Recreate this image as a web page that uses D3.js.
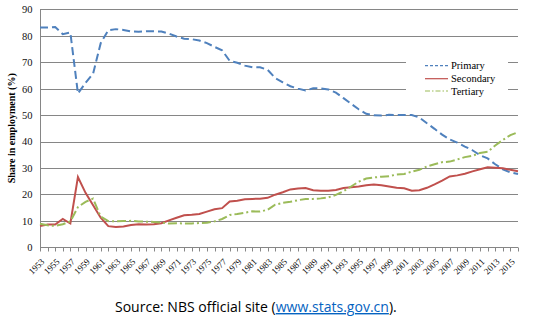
<!DOCTYPE html>
<html><head><meta charset="utf-8">
<script src="https://cdn.jsdelivr.net/npm/d3@7"></script>
<style>html,body{margin:0;padding:0;background:#fff;}svg{display:block;}</style>
</head><body>
<script>
const years = d3.range(1953, 2017);
const primary = [83.1,83.1,83.3,80.6,81.2,58.2,62.2,65.7,77.2,82.1,82.5,82.2,81.6,81.5,81.7,81.7,81.6,80.8,79.7,78.9,78.7,78.2,77.2,75.8,74.5,70.5,69.8,68.7,68.1,68.1,67.1,64.0,62.4,60.9,60.0,59.3,60.1,60.1,59.7,58.5,56.4,54.3,52.2,50.5,49.9,49.8,50.1,50.0,50.0,50.0,49.1,46.9,44.8,42.6,40.8,39.6,38.1,36.7,34.8,33.6,31.4,29.5,28.3,27.7];
const secondary = [8.0,8.6,8.6,10.7,9.0,26.6,20.6,15.9,11.2,8.0,7.7,7.9,8.4,8.7,8.6,8.7,9.1,10.2,11.2,12.1,12.3,12.6,13.5,14.4,14.8,17.3,17.6,18.2,18.3,18.4,18.7,19.9,20.8,21.9,22.2,22.4,21.6,21.4,21.4,21.7,22.4,22.7,23.0,23.5,23.7,23.5,23.0,22.5,22.3,21.4,21.6,22.5,23.8,25.2,26.8,27.2,27.8,28.7,29.5,30.3,30.1,29.9,29.3,28.8];
const tertiary = [8.9,8.3,8.1,8.7,9.8,15.2,17.2,18.4,11.6,9.9,9.8,9.9,10.0,9.8,9.7,9.6,9.3,9.0,9.1,9.0,9.0,9.2,9.3,9.8,10.7,12.2,12.6,13.1,13.6,13.5,14.2,16.1,16.8,17.2,17.8,18.3,18.3,18.5,18.9,19.8,21.2,23.0,24.8,26.0,26.4,26.7,26.9,27.5,27.7,28.6,29.3,30.6,31.4,32.2,32.4,33.2,34.1,34.6,35.7,36.1,38.5,40.6,42.4,43.5];
const seriesNames = ["Primary","Secondary","Tertiary"];
const yTicks = [0,10,20,30,40,50,60,70,80,90];
const labelYears = years.filter((y,i) => i % 2 === 0);

const W = 538, H = 324;
const svg = d3.select("body").append("svg").attr("width", W).attr("height", H);

const x = d3.scalePoint().domain(years).range([40, 518]);
const y = d3.scaleLinear().domain([0, 90]).range([247.3, 9.3]);
const grid = "#868686";

// gridlines
svg.append("g").selectAll("line").data(yTicks.filter(d => d > 0)).join("line")
  .attr("x1", 40).attr("x2", 518)
  .attr("y1", d => Math.round(y(d)) + 0.5).attr("y2", d => Math.round(y(d)) + 0.5)
  .attr("stroke", grid).attr("stroke-width", 1);

// y axis
const yAxis = svg.append("g").attr("transform", "translate(40.5,0)")
  .call(d3.axisLeft(y).tickValues(yTicks).tickSize(0).tickPadding(8));
yAxis.select(".domain").attr("stroke", grid).attr("d", `M0,${y(90)}V${Math.round(y(0))+0.5}`);
yAxis.selectAll("text").attr("font-family", "Liberation Serif").attr("font-size", 10.5).attr("fill", "#111");

// x axis
const xAxis = svg.append("g").attr("transform", `translate(0,${Math.round(y(0))+0.5})`)
  .call(d3.axisBottom(x).tickSize(4).tickFormat(""));
xAxis.select(".domain").attr("stroke", grid).attr("d", "M40,0H518");
xAxis.selectAll(".tick line").attr("stroke", grid);
xAxis.selectAll(".tick").attr("transform", d => `translate(${Math.round(x(d))+0.5},0)`);

svg.append("g").selectAll("text").data(labelYears).join("text")
  .attr("transform", d => `translate(${x(d) + 5},${y(0) + 15}) rotate(-45)`)
  .attr("text-anchor", "end")
  .attr("font-family", "Liberation Serif").attr("font-size", 9).attr("fill", "#111")
  .text(d => d);

// y title
svg.append("text").attr("transform", `translate(15,${(y(0)+y(90))/2}) rotate(-90)`)
  .attr("text-anchor", "middle")
  .attr("font-family", "Liberation Serif").attr("font-size", 10).attr("font-weight", "bold")
  .text("Share in employment (%)");

// lines
const styles = [
  {data: primary, color: "#4F81BD", dash: "8,4"},
  {data: secondary, color: "#C0504D", dash: null},
  {data: tertiary, color: "#9BBB59", dash: "9,3,2,3"}
];
const line = d3.line().x((d,i) => x(years[i])).y(d => y(d));
styles.forEach(s => {
  svg.append("path").attr("d", line(s.data)).attr("fill", "none")
    .attr("stroke", s.color).attr("stroke-width", 2)
    .attr("stroke-dasharray", s.dash);
});

// legend
const lg = svg.append("g");
lg.append("rect").attr("x", 406).attr("y", 56).attr("width", 102).attr("height", 43).attr("fill", "#fff");
const ly = [65.7, 78.7, 91];
seriesNames.forEach((n, i) => {
  lg.append("line").attr("x1", 425).attr("x2", 448).attr("y1", ly[i]).attr("y2", ly[i])
    .attr("stroke", styles[i].color).attr("stroke-width", 1.2)
    .attr("stroke-dasharray", i === 0 ? "3,2" : (i === 2 ? "5,2,1.5,2" : null));
  lg.append("text").attr("x", 451).attr("y", ly[i]).attr("dy", "0.35em")
    .attr("font-family", "Liberation Serif").attr("font-size", 10.5).attr("fill", "#000")
    .text(n);
});

// source
const src = svg.append("text").attr("x", 115).attr("y", 312)
  .attr("font-family", "Open Sans").attr("font-size", 12.5).attr("fill", "#000");
src.append("tspan").text("Source: NBS official site (");
src.append("tspan").attr("fill", "#0563C1").attr("text-decoration", "underline").text("www.stats.gov.cn");
src.append("tspan").text(").");
const len = src.node().getComputedTextLength();
if (len > 0) src.attr("font-size", 12.5 * 282 / len);
</script>
</body></html>
